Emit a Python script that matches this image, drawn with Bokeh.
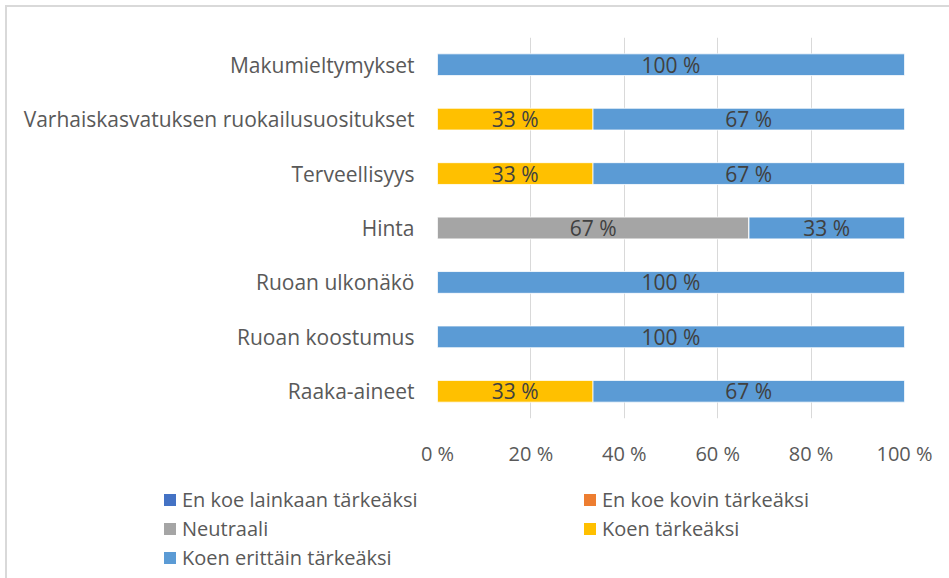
from bokeh.plotting import figure
from bokeh.layouts import column
from bokeh.models import (ColumnDataSource, FactorRange, Range1d, Legend, LegendItem,
                          FixedTicker, CustomJSTickFormatter)
from bokeh.core.properties import value
from bokeh.embed import file_html
from bokeh.resources import INLINE

categories = ["Makumieltymykset", "Varhaiskasvatuksen ruokailusuositukset", "Terveellisyys",
              "Hinta", "Ruoan ulkonäkö", "Ruoan koostumus", "Raaka-aineet"]
series_names = ["En koe lainkaan tärkeäksi", "En koe kovin tärkeäksi", "Neutraali",
                "Koen tärkeäksi", "Koen erittäin tärkeäksi"]
en_lainkaan = [0, 0, 0, 0, 0, 0, 0]
en_kovin = [0, 0, 0, 0, 0, 0, 0]
neutraali = [0, 0, 0, 66.7, 0, 0, 0]
koen = [0, 33.3, 33.3, 0, 0, 0, 33.3]
erittain = [100, 66.7, 66.7, 33.3, 100, 100, 66.7]
x_ticks = [0, 20, 40, 60, 80, 100]

colors = ["#4472C4", "#ED7D31", "#A5A5A5", "#FFC000", "#5B9BD5"]
FONT = "Open Sans"
keys = ["s0", "s1", "s2", "s3", "s4"]
series = [en_lainkaan, en_kovin, neutraali, koen, erittain]
data = {"cat": categories}
for k, vals in zip(keys, series):
    data[k] = vals
source = ColumnDataSource(data)

p = figure(width=942, height=463, output_backend="svg", toolbar_location=None,
           y_range=FactorRange(factors=list(reversed(categories))),
           x_range=Range1d(0, 100),
           min_border_left=430, min_border_right=45, min_border_top=30, min_border_bottom=52)
p.outline_line_color = None

rs = p.hbar_stack(keys, y="cat", height=0.4, color=colors, source=source,
                  line_color="white", line_width=0.8)

# labels at segment centers
lx, ly, lt = [], [], []
for i, c in enumerate(categories):
    left = 0
    for vals in series:
        v = vals[i]
        if v > 0:
            lx.append(left + v / 2)
            ly.append(c)
            lt.append(f"{round(v)} %")
        left += v
p.text(x=lx, y=ly, text=lt, text_align="center", text_baseline="middle",
       text_font=value(FONT), text_font_size="21px", text_color="#404040")

p.xaxis.ticker = FixedTicker(ticks=x_ticks)
p.xaxis.formatter = CustomJSTickFormatter(code="return tick + ' %';")
p.xgrid.ticker = FixedTicker(ticks=x_ticks)
p.xgrid.grid_line_color = "#d9d9d9"
p.ygrid.grid_line_color = None
for ax in (p.xaxis[0], p.yaxis[0]):
    ax.axis_line_color = None
    ax.major_tick_line_color = None
    ax.minor_tick_line_color = None
    ax.major_label_text_font = FONT
    ax.major_label_text_color = "#595959"
p.xaxis.major_label_text_font_size = "20px"
p.yaxis.major_label_text_font_size = "21px"
p.xaxis.major_label_standoff = 15
p.yaxis.major_label_standoff = 17

# legend figure (its frame covers the whole canvas)
lf = figure(width=942, height=108, output_backend="svg", toolbar_location=None,
            x_range=Range1d(0, 1), y_range=Range1d(0, 1),
            min_border_left=0, min_border_right=0, min_border_top=0, min_border_bottom=0)
lf.axis.visible = False
lf.grid.visible = False
lf.outline_line_color = None
for fig in (p, lf):
    if "frame_align" in fig.properties():
        fig.frame_align = False
dummies = [lf.hbar(y=[0], left=[0], right=[0], height=0.1, fill_color=c, line_color=None)
           for c in colors]

common = dict(glyph_width=15, glyph_height=15, label_standoff=5, label_height=29,
              label_text_font=FONT, label_text_font_size="20px", label_text_color="#595959",
              spacing=0, padding=0, margin=0, border_line_color=None, background_fill_alpha=0)
leg1 = Legend(items=[LegendItem(label=series_names[i], renderers=[dummies[i]]) for i in (0, 2, 4)],
              location=(155, 6), **common)
leg2 = Legend(items=[LegendItem(label=series_names[i], renderers=[dummies[i]]) for i in (1, 3)],
              location=(575, 35), **common)
lf.add_layout(leg1, "center")
lf.add_layout(leg2, "center")

layout = column(p, lf, spacing=0)
layout.styles = {"margin-left": "5px", "margin-top": "5px",
                 "border-top": "2px solid #d9d9d9", "border-left": "2px solid #d9d9d9"}

open("out.html", "w").write(file_html(layout, INLINE))
